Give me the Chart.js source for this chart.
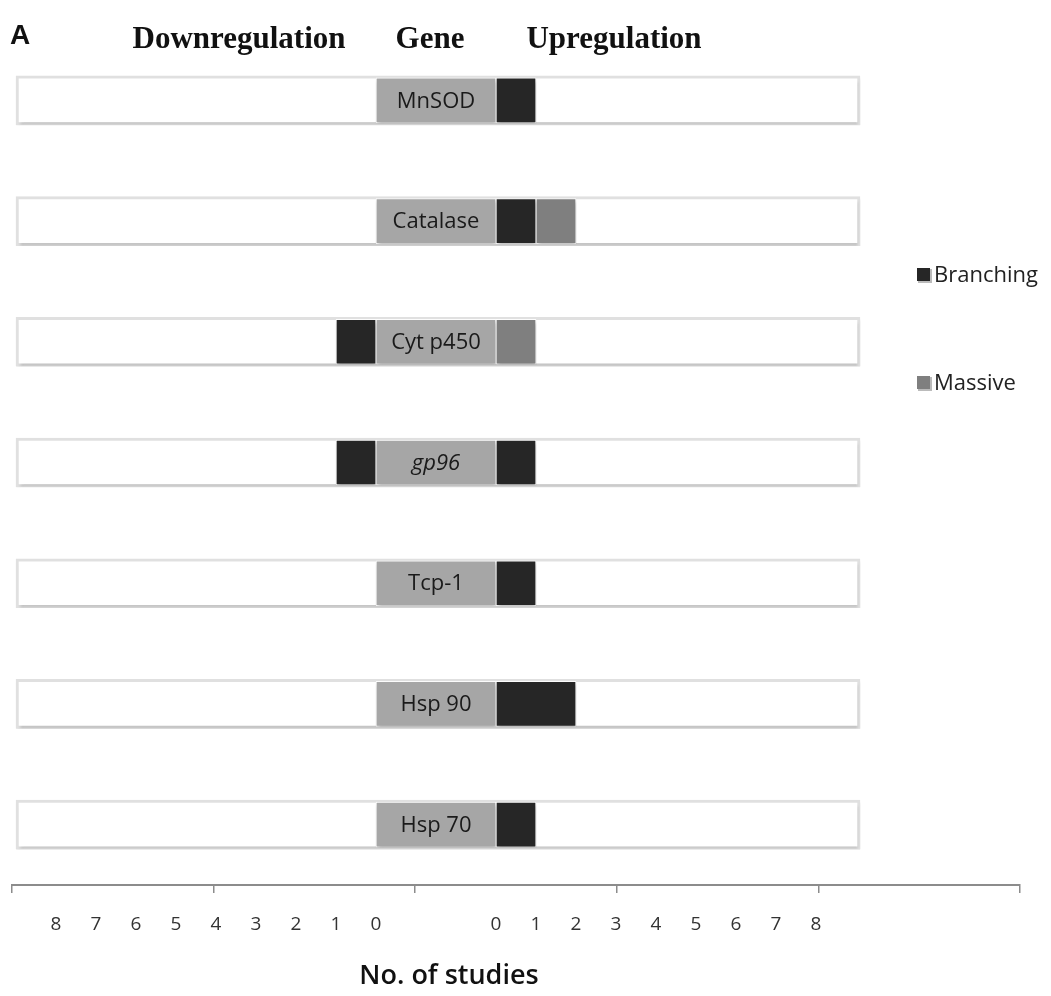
<!DOCTYPE html>
<html>
<head>
<meta charset="utf-8">
<script src="https://cdn.jsdelivr.net/npm/chart.js@4/dist/chart.umd.min.js"></script>
<style>
  html, body { margin: 0; padding: 0; background: #ffffff; }
  #wrap { width: 1051px; height: 996px; position: relative; }
</style>
</head>
<body>
<div id="wrap"><canvas id="c" width="1051" height="996"></canvas></div>
<script>
// ---- Data ----
const genes = ['MnSOD', 'Catalase', 'Cyt p450', 'gp96', 'Tcp-1', 'Hsp 90', 'Hsp 70'];
const upBranching   = [1, 1, 0, 1, 1, 2, 1];
const upMassive     = [0, 1, 1, 0, 0, 0, 0];
const downBranching = [0, 0, 1, 1, 0, 0, 0];
const downMassive   = [0, 0, 0, 0, 0, 0, 0];
const studyTicks    = [0, 1, 2, 3, 4, 5, 6, 7, 8];
const seriesNames   = ['Branching', 'Massive'];
const headings      = ['Downregulation', 'Gene', 'Upregulation'];
const panelLabel    = 'A';
const axisTitle     = 'No. of studies';
const italicGenes   = ['gp96'];

// ---- Layout helpers (scale units: 1 unit = 1 study) ----
const GAP = 1.5;              // half width of gene label box
const X_MIN = -10.6, X_MAX = 14.6;
const ROW_START = -10.5, ROW_END = 10.6;

const colBranching = '#262626';
const colMassive = '#7f7f7f';
const colGene = '#a6a6a6';

const datasets = [
  {
    label: 'row', data: genes.map(() => [ROW_START, ROW_END]),
    backgroundColor: '#ffffff', borderColor: '#e0e0e0', borderWidth: 3,
    borderSkipped: false, barThickness: 49, order: 10, grouped: false
  },
  {
    label: 'gene', data: genes.map(() => [-GAP, GAP]),
    backgroundColor: colGene, borderColor: '#ffffff', borderWidth: 1,
    borderSkipped: false, barThickness: 45, order: 5, grouped: false
  },
  {
    label: seriesNames[0], data: upBranching.map(v => v > 0 ? [GAP, GAP + v] : null),
    backgroundColor: colBranching, borderColor: '#ffffff', borderWidth: 1,
    borderSkipped: false, barThickness: 45, order: 1, grouped: false
  },
  {
    label: seriesNames[1], data: upMassive.map((v, i) => v > 0 ? [GAP + upBranching[i], GAP + upBranching[i] + v] : null),
    backgroundColor: colMassive, borderColor: '#ffffff', borderWidth: 1,
    borderSkipped: false, barThickness: 45, order: 1, grouped: false
  },
  {
    label: seriesNames[0] + ' down', data: downBranching.map(v => v > 0 ? [-GAP - v, -GAP] : null),
    backgroundColor: colBranching, borderColor: '#ffffff', borderWidth: 1,
    borderSkipped: false, barThickness: 45, order: 1, grouped: false
  },
  {
    label: seriesNames[1] + ' down', data: downMassive.map((v, i) => v > 0 ? [-GAP - downBranching[i] - v, -GAP - downBranching[i]] : null),
    backgroundColor: colMassive, borderColor: '#ffffff', borderWidth: 1,
    borderSkipped: false, barThickness: 45, order: 1, grouped: false
  }
];

const shadowPlugin = {
  id: 'shadows',
  beforeDatasetDraw(chart, args) {
    const ctx = chart.ctx;
    ctx.save();
    if (args.index === 0) {
      ctx.shadowColor = 'rgba(0,0,0,0.14)';
      ctx.shadowBlur = 3;
      ctx.shadowOffsetX = 1;
      ctx.shadowOffsetY = 3;
    } else {
      ctx.shadowColor = 'rgba(0,0,0,0.25)';
      ctx.shadowBlur = 4;
      ctx.shadowOffsetX = 1;
      ctx.shadowOffsetY = 3;
    }
  },
  afterDatasetDraw(chart) { chart.ctx.restore(); }
};

const textPlugin = {
  id: 'texts',
  afterDatasetsDraw(chart) {
    const ctx = chart.ctx;
    const meta = chart.getDatasetMeta(1);
    ctx.save();
    ctx.fillStyle = '#1a1a1a';
    ctx.textAlign = 'center';
    ctx.textBaseline = 'middle';
    meta.data.forEach((el, i) => {
      const name = genes[i];
      const it = italicGenes.includes(name);
      ctx.font = (it ? 'italic ' : '') + '22px "Open Sans"';
      ctx.fillText(name, (el.x + el.base) / 2, el.y + 1);
    });
    ctx.restore();
  },
  afterDraw(chart) {
    const ctx = chart.ctx;
    ctx.save();
    ctx.fillStyle = '#111';
    ctx.textBaseline = 'middle';
    ctx.textAlign = 'left';
    ctx.font = 'bold 28px "Liberation Sans"';
    ctx.fillText(panelLabel, 10, 36);
    ctx.font = 'bold 31px "Liberation Serif"';
    ctx.textAlign = 'center';
    ctx.fillText(headings[0], 239, 40);
    ctx.fillText(headings[1], 430, 40);
    ctx.fillText(headings[2], 614, 40);
    // axis title
    ctx.font = '600 27px "Open Sans"';
    ctx.fillText(axisTitle, 449, 976);
    // legend
    const items = [[seriesNames[0], colBranching, 275], [seriesNames[1], colMassive, 383]];
    ctx.textAlign = 'left';
    ctx.font = '22px "Open Sans"';
    items.forEach(([name, col, y]) => {
      ctx.fillStyle = '#bbbbbb';
      ctx.fillRect(918, y - 6, 14, 14);
      ctx.fillStyle = col;
      ctx.fillRect(917, y - 7, 13, 13);
      ctx.fillStyle = '#222';
      ctx.fillText(name, 934, y + 1);
    });
    ctx.restore();
  }
};

new Chart(document.getElementById('c'), {
  type: 'bar',
  data: { labels: genes, datasets },
  options: {
    indexAxis: 'y',
    responsive: false,
    animation: false,
    devicePixelRatio: 1,
    layout: { padding: { top: 40, left: 12, right: 31, bottom: 0 } },
    plugins: { legend: { display: false }, tooltip: { enabled: false } },
    scales: {
      y: { display: false },
      x: {
        type: 'linear', position: 'bottom', weight: 0,
        min: X_MIN, max: X_MAX,
        afterBuildTicks(scale) {
          const step = (X_MAX - X_MIN) / 5;
          scale.ticks = [0, 1, 2, 3, 4, 5].map(k => ({ value: X_MIN + k * step }));
        },
        afterFit(scale) { scale.height = 10; },
        ticks: { display: false },
        grid: { drawOnChartArea: false, drawTicks: true, tickLength: 8, color: '#8c8c8c', lineWidth: 1.5 },
        border: { display: true, color: '#8c8c8c', width: 2 }
      },
      x2: {
        type: 'linear', position: 'bottom', weight: 1,
        min: X_MIN, max: X_MAX,
        afterBuildTicks(scale) {
          const left = studyTicks.slice().reverse().map(v => ({ value: -GAP - v }));
          const right = studyTicks.map(v => ({ value: GAP + v }));
          scale.ticks = left.concat(right);
        },
        afterFit(scale) { scale.height = 101; },
        ticks: {
          padding: 18,
          color: '#333',
          font: { family: '"Open Sans"', size: 19 },
          maxRotation: 0, autoSkip: false,
          callback: (value) => String(Math.round(Math.abs(value) - GAP))
        },
        grid: { display: false, drawTicks: false },
        border: { display: false },
        title: { display: false }
      }
    }
  },
  plugins: [shadowPlugin, textPlugin]
});
</script>
</body>
</html>
